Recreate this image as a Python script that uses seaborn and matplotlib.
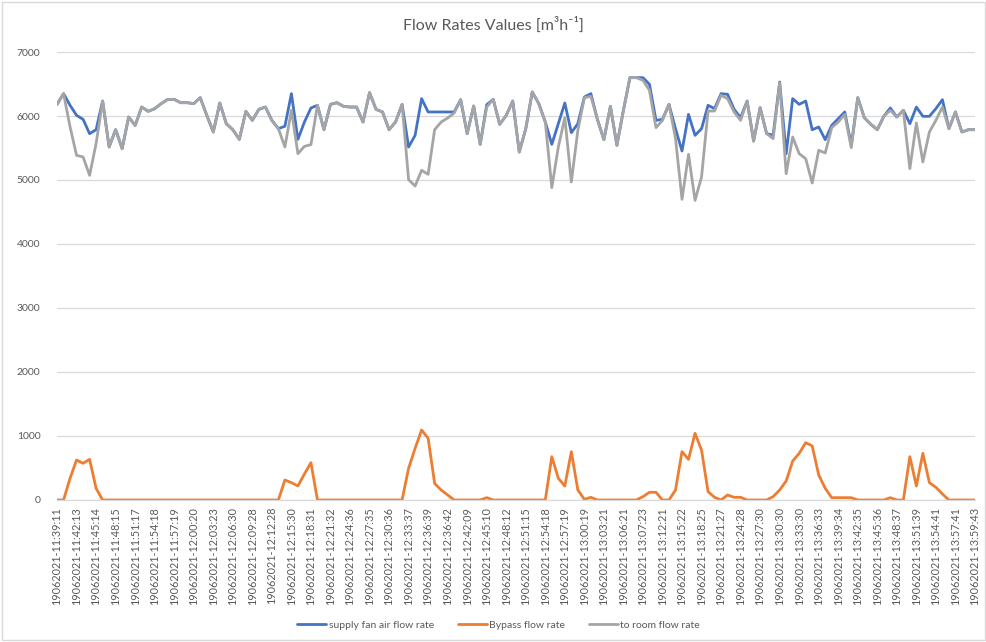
import matplotlib
matplotlib.use("Agg")
import matplotlib.pyplot as plt
import pandas as pd
import seaborn as sns

# =========================================================================
# 1. Data (one sample every ~1 min)
# =========================================================================
# only every third sample carries a label on the category axis
TICK_LABELS = [
    "19062021-11:39:11", "19062021-11:42:13", "19062021-11:45:14", "19062021-11:48:15",
    "19062021-11:51:17", "19062021-11:54:18", "19062021-11:57:19", "19062021-12:00:20",
    "19062021-12:03:23", "19062021-12:06:30", "19062021-12:09:28", "19062021-12:12:28",
    "19062021-12:15:30", "19062021-12:18:31", "19062021-12:21:32", "19062021-12:24:36",
    "19062021-12:27:35", "19062021-12:30:36", "19062021-12:33:37", "19062021-12:36:39",
    "19062021-12:36:42", "19062021-12:42:09", "19062021-12:45:10", "19062021-12:48:12",
    "19062021-12:51:15", "19062021-12:54:18", "19062021-12:57:19", "19062021-13:00:19",
    "19062021-13:03:21", "19062021-13:06:21", "19062021-13:07:23", "19062021-13:12:21",
    "19062021-13:15:22", "19062021-13:18:25", "19062021-13:21:27", "19062021-13:24:28",
    "19062021-13:27:30", "19062021-13:30:30", "19062021-13:33:30", "19062021-13:36:33",
    "19062021-13:39:34", "19062021-13:42:35", "19062021-13:45:36", "19062021-13:48:37",
    "19062021-13:51:39", "19062021-13:54:41", "19062021-13:57:41", "19062021-13:59:43",
]
LABEL_EVERY = 3

SUPPLY_FAN = [
    6182, 6350, 6167, 6010, 5948, 5724, 5786, 6234, 5516, 5786,
    5490, 5984, 5854, 6140, 6073, 6115, 6193, 6260, 6260, 6208,
    6208, 6193, 6286, 6010, 5750, 6203, 5880, 5786, 5635, 6073,
    5932, 6104, 6140, 5932, 5802, 5840, 6349, 5635, 5906, 6125,
    6167, 5786, 6182, 6208, 6151, 6140, 6140, 5906, 6365, 6104,
    6063, 5786, 5906, 6182, 5516, 5698, 6271, 6063, 6063, 6063,
    6063, 6063, 6255, 5724, 6156, 5557, 6176, 6260, 5870, 6010,
    6234, 5437, 5802, 6375, 6193, 5906, 5557, 5880, 6203, 5740,
    5880, 6296, 6349, 5948, 5630, 6151, 5542, 6089, 6599, 6599,
    6599, 6495, 5932, 5948, 6182, 5800, 5453, 6026, 5698, 5802,
    6167, 6115, 6349, 6339, 6105, 5974, 6234, 5609, 6130, 5724,
    5700, 6531, 5411, 6271, 6182, 6234, 5786, 5828, 5630, 5854,
    5958, 6063, 5540, 6286, 5974, 5870, 5786, 5995, 6125, 5984,
    6089, 5880, 6140, 5995, 5995, 6115, 6255, 5802, 6063, 5750,
    5786, 5786,
]
BYPASS = [
    0, 0, 339, 625, 573, 635, 182, 0, 0, 0,
    0, 0, 0, 0, 0, 0, 0, 0, 0, 0,
    0, 0, 0, 0, 0, 0, 0, 0, 0, 0,
    0, 0, 0, 0, 0, 312, 271, 219, 406, 583,
    0, 0, 0, 0, 0, 0, 0, 0, 0, 0,
    0, 0, 0, 0, 495, 807, 1094, 964, 260, 156,
    78, 0, 0, 0, 0, 0, 36, 0, 0, 0,
    0, 0, 0, 0, 0, 0, 677, 339, 219, 755,
    156, 10, 42, 0, 0, 0, 0, 0, 0, 0,
    52, 120, 120, 0, 0, 156, 755, 635, 1042, 781,
    130, 42, 0, 78, 42, 42, 0, 0, 0, 0,
    52, 156, 297, 609, 729, 896, 844, 391, 182, 36,
    36, 36, 36, 0, 0, 0, 0, 0, 36, 0,
    0, 677, 219, 729, 271, 198, 94, 0, 0, 0,
    0, 0,
]
TO_ROOM = [
    6182, 6350, 5830, 5385, 5360, 5073, 5570, 6234, 5516, 5786,
    5490, 5984, 5854, 6140, 6073, 6115, 6193, 6260, 6260, 6208,
    6208, 6193, 6286, 6010, 5750, 6203, 5880, 5786, 5635, 6073,
    5932, 6104, 6140, 5932, 5802, 5516, 6089, 5411, 5526, 5552,
    6167, 5786, 6182, 6208, 6151, 6140, 6140, 5906, 6365, 6104,
    6063, 5786, 5906, 6182, 5005, 4906, 5151, 5089, 5786, 5906,
    5969, 6047, 6255, 5724, 6156, 5557, 6140, 6260, 5870, 6010,
    6234, 5437, 5802, 6375, 6193, 5906, 4880, 5516, 5974, 4969,
    5776, 6286, 6307, 5948, 5630, 6151, 5542, 6089, 6599, 6599,
    6557, 6401, 5818, 5932, 6182, 5650, 4698, 5401, 4682, 5047,
    6078, 6078, 6323, 6271, 6063, 5932, 6234, 5609, 6130, 5724,
    5646, 6516, 5099, 5672, 5411, 5333, 4953, 5464, 5422, 5818,
    5906, 6026, 5505, 6286, 5974, 5870, 5786, 5995, 6089, 5984,
    6089, 5177, 5891, 5281, 5750, 5932, 6140, 5802, 6063, 5750,
    5786, 5786,
]

SERIES = ["supply fan air flow rate", "Bypass flow rate", "to room flow rate"]
COLORS = ["#4472C4", "#ED7D31", "#A5A5A5"]
TEXT_GREY = "#595959"
GRID_GREY = "#D9D9D9"

# =========================================================================
# 2. Style
# =========================================================================
sns.set_style("white")
plt.rcParams["font.family"] = ["Lato", "DejaVu Sans"]

# =========================================================================
# 3. Plot
# =========================================================================
n = len(TO_ROOM)
df = pd.DataFrame({
    "sample": list(range(n)) * 3,
    "value": SUPPLY_FAN + BYPASS + TO_ROOM,
    "series": [SERIES[0]] * n + [SERIES[1]] * n + [SERIES[2]] * n,
})

fig = plt.figure(figsize=(9.87, 6.42), dpi=100)
ax = fig.add_axes([0.0578, 0.2212, 0.93, 0.6978])

sns.lineplot(data=df, x="sample", y="value", hue="series", hue_order=SERIES,
             palette=COLORS, linewidth=2.0, ax=ax, legend=False)

ax.set_xlim(0, n - 1)
ax.set_ylim(0, 7000)
ax.set_yticks(range(0, 7001, 1000))
ax.set_xticks(range(0, n, LABEL_EVERY))
ax.set_xticklabels(TICK_LABELS, rotation=90, fontsize=7.8, color=TEXT_GREY)
ax.tick_params(axis="y", labelsize=7.5, colors=TEXT_GREY, length=0, pad=12)
ax.tick_params(axis="x", length=0, pad=5)
ax.set_xlabel("")
ax.set_ylabel("")

ax.yaxis.grid(True, color=GRID_GREY, linewidth=0.9)
ax.set_axisbelow(True)
for side in ["top", "right", "left"]:
    ax.spines[side].set_visible(False)
ax.spines["bottom"].set_color(GRID_GREY)
ax.spines["bottom"].set_linewidth(0.9)

fig.text(0.5, 0.962, "Flow Rates Values [m³h⁻¹]", ha="center", va="center",
         fontsize=11.5, color=TEXT_GREY)

handles = [plt.Line2D([], [], color=c, linewidth=2.0) for c in COLORS]
fig.legend(handles, SERIES, loc="center", bbox_to_anchor=(0.505, 0.026), ncol=3,
           frameon=False, fontsize=7.5, labelcolor=TEXT_GREY, handlelength=2.8,
           handletextpad=0.2, columnspacing=2.3)

# light chart-area border like the Excel export
fig.patches.append(plt.Rectangle((0.002, 0.003), 0.996, 0.994, transform=fig.transFigure,
                                 fill=False, edgecolor=GRID_GREY, linewidth=1.0))

fig.savefig("out.png", dpi=100)
